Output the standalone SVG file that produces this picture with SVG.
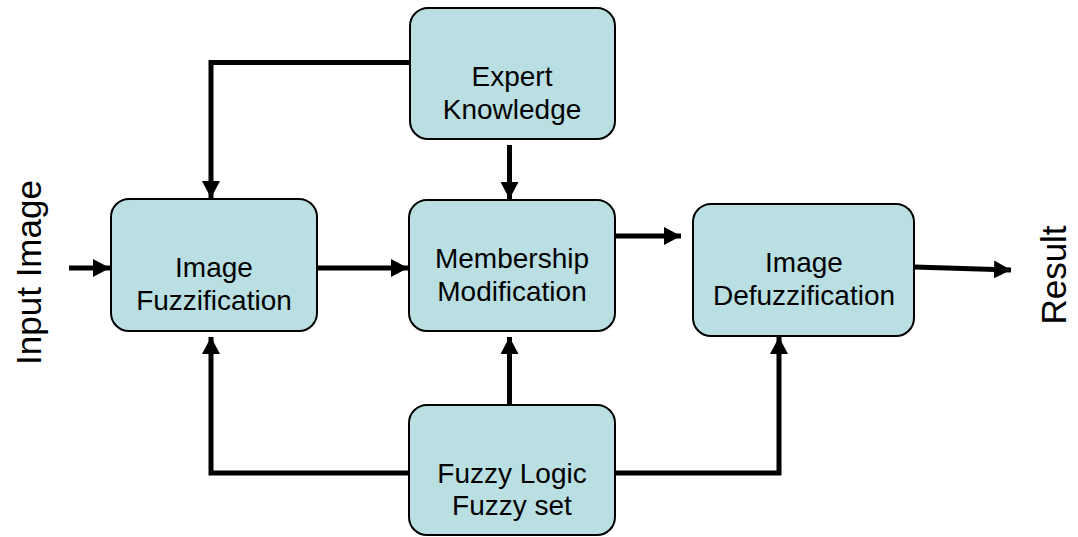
<svg xmlns="http://www.w3.org/2000/svg" width="1078" height="537" viewBox="0 0 1078 537">
<style>
.box{fill:#b9dfe3;stroke:#000;stroke-width:2}
.lbl{font-family:"Liberation Sans",Arial,sans-serif;font-size:28px;fill:#000;text-anchor:middle}
.side{font-family:"Liberation Sans",Arial,sans-serif;font-size:35px;fill:#000;text-anchor:middle}
.c{fill:none;stroke:#000;stroke-width:5;stroke-linejoin:miter;stroke-linecap:butt}
</style>
<defs>
<marker id="ah" markerUnits="userSpaceOnUse" markerWidth="18" markerHeight="18" viewBox="0 0 18 18" refX="17" refY="9" orient="auto">
<path d="M0,0 L17,9 L0,18 Z" fill="#000"/>
</marker>
</defs>
<rect width="1078" height="537" fill="#fff"/>
<g id="connectors">
<path class="c" d="M69,268 H110" marker-end="url(#ah)"/>
<path class="c" d="M317,268 H408" marker-end="url(#ah)"/>
<path class="c" d="M615,236 H681" marker-end="url(#ah)"/>
<path class="c" d="M914,267 L1011,270" marker-end="url(#ah)"/>
<path class="c" d="M410,62.5 H211 V198" marker-end="url(#ah)"/>
<path class="c" d="M509.5,145 V199" marker-end="url(#ah)"/>
<path class="c" d="M409,473 H211 V337" marker-end="url(#ah)"/>
<path class="c" d="M509.5,405 V337" marker-end="url(#ah)"/>
<path class="c" d="M615,473 H779 V337" marker-end="url(#ah)"/>
</g>
<g id="expert">
<rect class="box" x="410" y="8" width="205" height="131" rx="18"/>
<text class="lbl" x="512" y="86">Expert</text>
<text class="lbl" x="512" y="119">Knowledge</text>
</g>
<g id="fuzzification">
<rect class="box" x="111" y="199" width="206" height="132" rx="18"/>
<text class="lbl" x="214" y="277">Image</text>
<text class="lbl" x="214" y="310">Fuzzification</text>
</g>
<g id="membership">
<rect class="box" x="409" y="200" width="206" height="131" rx="18"/>
<text class="lbl" x="512" y="268">Membership</text>
<text class="lbl" x="512" y="301">Modification</text>
</g>
<g id="defuzzification">
<rect class="box" x="693" y="204" width="221" height="132" rx="18"/>
<text class="lbl" x="804" y="272">Image</text>
<text class="lbl" x="804" y="305">Defuzzification</text>
</g>
<g id="fuzzylogic">
<rect class="box" x="409" y="405" width="206" height="130" rx="18"/>
<text class="lbl" x="512" y="483">Fuzzy Logic</text>
<text class="lbl" x="512" y="515">Fuzzy set</text>
</g>
<g id="input">
<text class="side" transform="translate(41,272.5) rotate(-90)">Input Image</text>
</g>
<g id="result">
<text class="side" transform="translate(1066,275) rotate(-90)">Result</text>
</g>
</svg>
